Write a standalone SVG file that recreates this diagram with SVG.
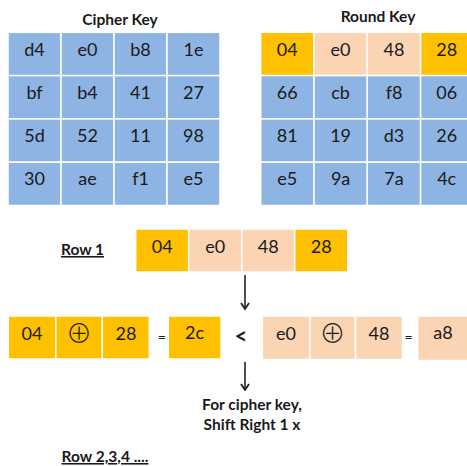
<svg xmlns="http://www.w3.org/2000/svg" width="467" height="466" viewBox="0 0 467 466">
<defs>
<style>
.b{fill:#8EB4E3;stroke:#fff;stroke-width:1.5}
.o{fill:#FFC000;stroke:#fff;stroke-width:1.5}
.p{fill:#FBD4B4;stroke:#fff;stroke-width:1.5}
.t{font-family:Lato,"Liberation Sans",sans-serif;font-size:18px;fill:#1a1a1a;text-anchor:middle}
.h{font-family:Lato,"Liberation Sans",sans-serif;font-size:15.5px;font-weight:bold;fill:#1a1a1a;text-anchor:middle}
.x{font-family:"Noto Sans CJK SC","DejaVu Sans",sans-serif;font-size:26px;font-weight:300;fill:#1a1a1a;text-anchor:middle}
.e{font-family:Lato,"Liberation Sans",sans-serif;font-size:14px;fill:#1a1a1a;text-anchor:middle}
.c{stroke:#222;stroke-width:1.6;fill:none}
</style>
<marker id="ah" viewBox="0 0 10 10" refX="9" refY="5" markerWidth="10" markerHeight="10" markerUnits="userSpaceOnUse" orient="auto">
<path d="M3,1 L9,5 L3,9" fill="none" stroke="#222" stroke-width="1.8"/>
</marker>
</defs>
<rect width="467" height="466" fill="#fff"/>

<g id="cipher-key">
<text class="h" x="120" y="25">Cipher Key</text>
<g id="ck-r1"><rect class="b" x="8" y="32.3" width="53" height="43.3"/><rect class="b" x="61" y="32.3" width="53" height="43.3"/><rect class="b" x="114" y="32.3" width="53" height="43.3"/><rect class="b" x="167" y="32.3" width="53" height="43.3"/>
<text class="t" x="34.5" y="55.5">d4</text><text class="t" x="87.5" y="55.5">e0</text><text class="t" x="140.5" y="55.5">b8</text><text class="t" x="193.5" y="55.5">1e</text></g>
<g id="ck-r2"><rect class="b" x="8" y="75.6" width="53" height="43.3"/><rect class="b" x="61" y="75.6" width="53" height="43.3"/><rect class="b" x="114" y="75.6" width="53" height="43.3"/><rect class="b" x="167" y="75.6" width="53" height="43.3"/>
<text class="t" x="34.5" y="98.8">bf</text><text class="t" x="87.5" y="98.8">b4</text><text class="t" x="140.5" y="98.8">41</text><text class="t" x="193.5" y="98.8">27</text></g>
<g id="ck-r3"><rect class="b" x="8" y="118.9" width="53" height="43.3"/><rect class="b" x="61" y="118.9" width="53" height="43.3"/><rect class="b" x="114" y="118.9" width="53" height="43.3"/><rect class="b" x="167" y="118.9" width="53" height="43.3"/>
<text class="t" x="34.5" y="142.1">5d</text><text class="t" x="87.5" y="142.1">52</text><text class="t" x="140.5" y="142.1">11</text><text class="t" x="193.5" y="142.1">98</text></g>
<g id="ck-r4"><rect class="b" x="8" y="162.2" width="53" height="43.3"/><rect class="b" x="61" y="162.2" width="53" height="43.3"/><rect class="b" x="114" y="162.2" width="53" height="43.3"/><rect class="b" x="167" y="162.2" width="53" height="43.3"/>
<text class="t" x="34.5" y="185.4">30</text><text class="t" x="87.5" y="185.4">ae</text><text class="t" x="140.5" y="185.4">f1</text><text class="t" x="193.5" y="185.4">e5</text></g>
</g>

<g id="round-key">
<text class="h" x="378" y="22">Round Key</text>
<g id="rk-r1"><rect class="o" x="260.7" y="32.3" width="53.3" height="43.3"/><rect class="p" x="314" y="32.3" width="53.3" height="43.3"/><rect class="p" x="367.3" y="32.3" width="53.3" height="43.3"/><rect class="o" x="420.6" y="32.3" width="53.3" height="43.3"/>
<text class="t" x="287.3" y="55.5">04</text><text class="t" x="340.6" y="55.5">e0</text><text class="t" x="394" y="55.5">48</text><text class="t" x="446.7" y="55.5">28</text></g>
<g id="rk-r2"><rect class="b" x="260.7" y="75.6" width="53.3" height="43.3"/><rect class="b" x="314" y="75.6" width="53.3" height="43.3"/><rect class="b" x="367.3" y="75.6" width="53.3" height="43.3"/><rect class="b" x="420.6" y="75.6" width="53.3" height="43.3"/>
<text class="t" x="287.3" y="98.8">66</text><text class="t" x="340.6" y="98.8">cb</text><text class="t" x="394" y="98.8">f8</text><text class="t" x="446.7" y="98.8">06</text></g>
<g id="rk-r3"><rect class="b" x="260.7" y="118.9" width="53.3" height="43.3"/><rect class="b" x="314" y="118.9" width="53.3" height="43.3"/><rect class="b" x="367.3" y="118.9" width="53.3" height="43.3"/><rect class="b" x="420.6" y="118.9" width="53.3" height="43.3"/>
<text class="t" x="287.3" y="142.1">81</text><text class="t" x="340.6" y="142.1">19</text><text class="t" x="394" y="142.1">d3</text><text class="t" x="446.7" y="142.1">26</text></g>
<g id="rk-r4"><rect class="b" x="260.7" y="162.2" width="53.3" height="43.3"/><rect class="b" x="314" y="162.2" width="53.3" height="43.3"/><rect class="b" x="367.3" y="162.2" width="53.3" height="43.3"/><rect class="b" x="420.6" y="162.2" width="53.3" height="43.3"/>
<text class="t" x="287.3" y="185.4">e5</text><text class="t" x="340.6" y="185.4">9a</text><text class="t" x="394" y="185.4">7a</text><text class="t" x="446.7" y="185.4">4c</text></g>
</g>

<g id="row1-label">
<text class="h" x="82.5" y="255" text-decoration="underline">Row 1</text>
</g>
<g id="row1">
<rect class="o" x="135.7" y="229" width="53" height="43"/><rect class="p" x="188.7" y="229" width="53" height="43"/><rect class="p" x="241.7" y="229" width="53" height="43"/><rect class="o" x="294.7" y="229" width="53" height="43"/>
<text class="t" x="162.2" y="253">04</text><text class="t" x="215.2" y="253">e0</text><text class="t" x="268.2" y="253">48</text><text class="t" x="321.2" y="253">28</text>
</g>

<g id="xor-left">
<rect class="o" x="8.3" y="316" width="47.5" height="43"/><rect class="o" x="55.8" y="316" width="46.5" height="43"/><rect class="o" x="102.3" y="316" width="47" height="43"/>
<text class="t" x="32" y="339.5">04</text><text class="x" x="79" y="342.5">⊕</text><text class="t" x="126" y="339.5">28</text>
</g>
<g id="eq-left"><text class="e" x="161.7" y="342">=</text></g>
<g id="result-left">
<rect class="o" x="168.3" y="316" width="52.7" height="43"/>
<text class="t" x="194.6" y="338.5">2c</text>
</g>
<g id="less-than"><text class="h" x="241" y="344" style="font-size:22px">&lt;</text></g>
<g id="xor-right">
<rect class="p" x="262.3" y="316" width="47.5" height="43.5"/><rect class="p" x="309.8" y="316" width="45.7" height="43.5"/><rect class="p" x="355.5" y="316" width="47" height="43.5"/>
<text class="t" x="286" y="339.5">e0</text><text class="x" x="332.6" y="342.5">⊕</text><text class="t" x="379" y="339.5">48</text>
</g>
<g id="eq-right"><text class="e" x="408.5" y="342">=</text></g>
<g id="result-right">
<rect class="p" x="417.7" y="316" width="52" height="44.5"/>
<text class="t" x="443" y="338.5">a8</text>
</g>

<g id="note">
<text class="h" x="252" y="410">For cipher key,</text>
<text class="h" x="252" y="430">Shift Right 1 x</text>
</g>
<g id="row234-label">
<text class="h" x="105" y="462" text-decoration="underline">Row 2,3,4 ....</text>
</g>

<g id="connectors">
<line class="c" x1="245" y1="275" x2="245" y2="309" marker-end="url(#ah)"/>
<line class="c" x1="245" y1="362" x2="245" y2="390" marker-end="url(#ah)"/>
</g>
</svg>
